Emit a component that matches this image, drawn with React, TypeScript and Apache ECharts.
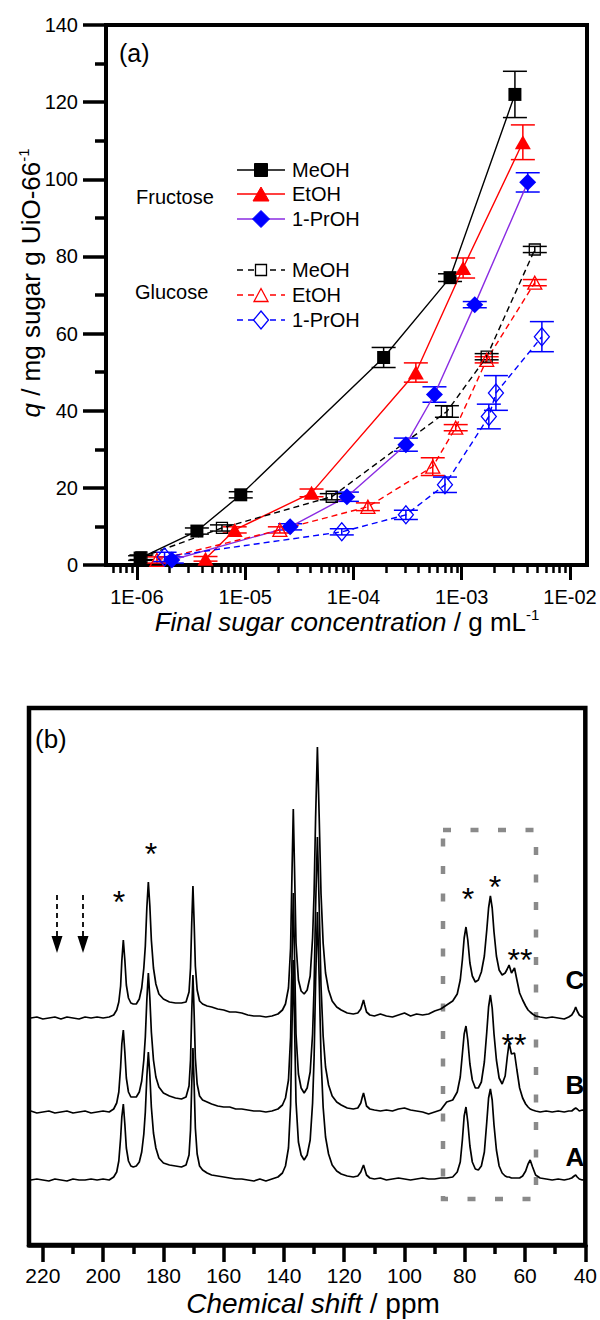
import React, { useEffect, useRef } from 'react';
import * as echarts from 'echarts';

const FONT = '"Liberation Sans", Arial, Helvetica, sans-serif';

// ---------- (a) sugar uptake vs final concentration ----------
const fructoseMeOHConc = [1.07e-6, 3.58e-6, 9.1e-6, 1.9e-4, 7.8e-4, 3.1e-3];
const fructoseMeOHQ = [1.8, 8.8, 18.2, 53.8, 74.5, 122];
const fructoseMeOHErr = [0.6, 0.8, 0.8, 2.6, 1.0, 6.0];

const fructoseEtOHConc = [4.3e-6, 8.0e-6, 4.1e-5, 3.77e-4, 1.03e-3, 3.67e-3];
const fructoseEtOHQ = [1.6, 9.1, 18.7, 49.9, 77, 109.6];
const fructoseEtOHErr = [0.6, 0.8, 1.0, 2.5, 2.6, 4.5];

const fructosePrOHConc = [2.1e-6, 2.6e-5, 8.7e-5, 3.05e-4, 5.6e-4, 1.32e-3, 4.07e-3];
const fructosePrOHQ = [1.3, 9.9, 17.7, 31.2, 44.2, 67.5, 99.2];
const fructosePrOHErr = [0.8, 0.8, 1.2, 1.7, 2.0, 0.8, 2.5];

const glucoseMeOHConc = [1.1e-6, 6.1e-6, 6.3e-5, 7.3e-4, 1.7e-3, 4.73e-3];
const glucoseMeOHQ = [2.0, 9.6, 17.7, 39.8, 54.0, 81.8];
const glucoseMeOHErr = [0.6, 0.8, 0.8, 1.5, 0.8, 0.8];

const glucoseEtOHConc = [1.53e-6, 2.09e-5, 1.36e-4, 5.4e-4, 8.8e-4, 1.7e-3, 4.73e-3];
const glucoseEtOHQ = [1.3, 9.1, 15.1, 25.5, 35.6, 53.2, 73.2];
const glucoseEtOHErr = [0.8, 0.8, 1.0, 2.3, 0.8, 0.8, 0.8];

const glucosePrOHConc = [1.8e-6, 7.8e-5, 3.05e-4, 7.0e-4, 1.78e-3, 2.07e-3, 5.5e-3];
const glucosePrOHQ = [2.1, 8.6, 13.0, 20.8, 38.5, 44.6, 59.2];
const glucosePrOHErr = [1.2, 0.8, 1.2, 2.0, 3.2, 4.5, 3.9];

const xMajorTicks = [1e-6, 1e-5, 1e-4, 1e-3, 1e-2];
const xTickLabels = ['1E-06', '1E-05', '1E-04', '1E-03', '1E-02'];

// ---------- (b) 13C NMR spectra ----------
const ppmGrid = [
  224, 222, 220, 218, 216, 214, 212, 210, 208, 206,
  204, 202, 200, 198, 196.5, 195.5, 194.8, 194.2, 193.8, 193.3,
  192.8, 192.3, 191.6, 190.8, 190, 189, 188, 187.2, 186.5, 186,
  185.5, 185, 184.5, 184, 183.3, 182.5, 181.5, 180, 178, 176,
  174, 172.5, 171.5, 171, 170.6, 170.2, 169.8, 169.4, 168.8, 168,
  167, 165.5, 164, 162, 160, 158, 156, 154, 152, 150,
  148, 146, 144, 142, 140.5, 139.5, 138.5, 137.8, 137.3, 136.9,
  136.5, 136, 135.2, 134.3, 133.3, 132.3, 131.3, 130.5, 130, 129.5,
  128.9, 128.3, 127.7, 127, 126.2, 125.2, 124, 122.5, 121, 119,
  117, 115.5, 114.5, 114, 113.6, 113.2, 112.6, 111.5, 110, 108,
  106, 104, 102, 100, 98, 96, 94, 92, 90, 88,
  86, 84, 82.5, 81.5, 80.8, 80.2, 79.6, 79, 78.3, 77.5,
  76.5, 75.5, 74.5, 73.5, 72.7, 72.1, 71.5, 70.9, 70.3, 69.5,
  68.6, 67.6, 66.6, 65.9, 65.3, 64.5, 63.5, 62.7, 61.8, 60.8,
  59.8, 59, 58.3, 57.5, 56.5, 55, 53, 51, 49, 47,
  45.5, 44.5, 43.7, 43.2, 42.7, 42, 41, 40,
];

const spectrumA = [
  0, 1, 0, -1, 1, 0, -1, 1, 0, 0,
  1, 0, 1, 0, 3, 8, 19, 42, 63, 76,
  56, 32, 19, 14, 13, 14, 18, 28, 46, 68,
  103, 128, 105, 73, 47, 32, 22, 17, 15, 14,
  13, 15, 25, 50, 96, 132, 95, 52, 26, 14,
  10, 7, 5, 4, 3, 2, 1, 1, 0, -1,
  1, -1, 1, 3, 7, 14, 32, 75, 158, 220,
  158, 78, 38, 25, 20, 25, 40, 77, 122, 198,
  268, 200, 122, 73, 43, 26, 15, 9, 6, 4,
  3, 4, 8, 12, 15, 11, 5, 2, 1, 2,
  0, 1, 2, 1, 0, 1, 2, 1, 1, 2,
  2, 3, 8, 18, 40, 64, 73, 58, 34, 18,
  11, 10, 14, 28, 58, 82, 91, 80, 55, 30,
  14, 7, 4, 3, 3, 2, 2, 2, 2, 4,
  9, 16, 20, 13, 5, 2, 1, 0, 1, 0,
  1, 2, 4, 5, 3, 1, 0, 1,
];

const spectrumB = [
  1, -1, 0, 1, -1, 0, 1, -1, 0, 1,
  -1, 0, 1, 0, 3, 9, 20, 45, 68, 82,
  60, 34, 20, 15, 15, 15, 20, 31, 52, 75,
  112, 139, 114, 80, 52, 35, 25, 19, 16, 14,
  13, 15, 26, 52, 100, 137, 98, 54, 28, 16,
  12, 10, 8, 6, 5, 5, 3, 3, 2, 1,
  1, 0, 1, 3, 7, 14, 32, 75, 158, 219,
  158, 78, 38, 24, 19, 24, 40, 78, 125, 205,
  275, 205, 126, 76, 45, 27, 16, 10, 7, 4,
  3, 4, 9, 15, 19, 14, 6, 3, 2, 1,
  2, 1, 3, 4, 2, 1, 0, -2, 0, 2,
  10, 12, 20, 35, 58, 78, 86, 72, 48, 32,
  24, 24, 30, 50, 80, 105, 117, 104, 78, 52,
  34, 28, 36, 55, 69, 58, 59, 42, 24, 14,
  8, 5, 3, 2, 1, 0, 1, 0, 1, 0,
  1, 1, 3, 4, 3, 1, 2, 1,
];

const spectrumC = [
  0, 1, -1, 0, 1, -1, 1, 0, -1, 1,
  0, 1, 0, 1, 3, 8, 16, 32, 57, 78,
  58, 33, 20, 15, 14, 14, 19, 30, 50, 72,
  110, 136, 112, 78, 50, 34, 24, 19, 16, 15,
  15, 16, 26, 50, 95, 132, 95, 52, 28, 17,
  14, 12, 11, 9, 8, 6, 6, 5, 3, 2,
  2, 1, 2, 4, 8, 14, 30, 70, 150, 209,
  150, 75, 38, 27, 24, 28, 42, 80, 125, 200,
  271, 200, 124, 75, 45, 28, 17, 11, 8, 5,
  4, 5, 9, 14, 18, 13, 6, 3, 2, 4,
  2, 1, 3, 5, 2, 4, 3, 4, 7, 9,
  13, 17, 24, 38, 58, 80, 91, 78, 55, 42,
  36, 38, 46, 62, 88, 110, 122, 110, 86, 62,
  48, 43, 45, 49, 53, 45, 50, 38, 25, 18,
  12, 8, 6, 4, 2, 1, 0, 1, 0, -1,
  1, 3, 7, 11, 7, 3, 1, 0,
];

const spectrumNames = ['A', 'B', 'C'];
const spectrumOffsets = [65, 133, 227];
const ppmMajorTicks = [40, 60, 80, 100, 120, 140, 160, 180, 200, 220];
const ppmMinorTicks = [50, 70, 90, 110, 130, 150, 170, 190, 210];

// ---------- helpers ----------
const X_MIN = 5.18e-7;
const X_MAX = 0.01436;
const logMinorTicks: number[] = [];
for (let e = -7; e <= -2; e++) {
  for (let k = 2; k <= 9; k++) {
    const v = k * Math.pow(10, e);
    if (v > X_MIN && v < X_MAX) logMinorTicks.push(v);
  }
}

type IsoDef = {
  name: string;
  conc: number[];
  q: number[];
  err: number[];
  color: string;
  lineColor: string;
  symbol: string;
  size: number | number[];
  filled: boolean;
  dashed: boolean;
};

const isoDefs: IsoDef[] = [
  { name: 'Fructose MeOH', conc: fructoseMeOHConc, q: fructoseMeOHQ, err: fructoseMeOHErr, color: '#000000', lineColor: '#000000', symbol: 'rect', size: 13, filled: true, dashed: false },
  { name: 'Fructose EtOH', conc: fructoseEtOHConc, q: fructoseEtOHQ, err: fructoseEtOHErr, color: '#ff0000', lineColor: '#ff0000', symbol: 'triangle', size: [16, 14], filled: true, dashed: false },
  { name: 'Fructose 1-PrOH', conc: fructosePrOHConc, q: fructosePrOHQ, err: fructosePrOHErr, color: '#0000ff', lineColor: '#8a2be2', symbol: 'diamond', size: [17, 17], filled: true, dashed: false },
  { name: 'Glucose MeOH', conc: glucoseMeOHConc, q: glucoseMeOHQ, err: glucoseMeOHErr, color: '#000000', lineColor: '#000000', symbol: 'rect', size: 11, filled: false, dashed: true },
  { name: 'Glucose EtOH', conc: glucoseEtOHConc, q: glucoseEtOHQ, err: glucoseEtOHErr, color: '#ff0000', lineColor: '#ff0000', symbol: 'triangle', size: [14, 13], filled: false, dashed: true },
  { name: 'Glucose 1-PrOH', conc: glucosePrOHConc, q: glucosePrOHQ, err: glucosePrOHErr, color: '#0000ff', lineColor: '#0000ff', symbol: 'diamond', size: [15, 18], filled: false, dashed: true },
];

function makeErrorSeries(d: IsoDef) {
  return {
    type: 'custom',
    name: d.name + ' error',
    xAxisIndex: 0,
    yAxisIndex: 0,
    z: 2,
    silent: true,
    encode: { x: 0, y: 1 },
    data: d.conc.map((c, i) => [c, d.q[i], d.err[i]]),
    renderItem: (params: any, api: any) => {
      const x = api.value(0);
      const y = api.value(1);
      const e = api.value(2);
      const p1 = api.coord([x, y + e]);
      const p2 = api.coord([x, y - e]);
      const hw = 12;
      const st = { stroke: d.color, lineWidth: 1.5 };
      return {
        type: 'group',
        children: [
          { type: 'line', shape: { x1: p1[0], y1: p1[1], x2: p2[0], y2: p2[1] }, style: st },
          { type: 'line', shape: { x1: p1[0] - hw, y1: p1[1], x2: p1[0] + hw, y2: p1[1] }, style: st },
          { type: 'line', shape: { x1: p2[0] - hw, y1: p2[1], x2: p2[0] + hw, y2: p2[1] }, style: st },
        ],
      };
    },
  };
}

function makeLineSeries(d: IsoDef) {
  return {
    type: 'line',
    name: d.name,
    xAxisIndex: 0,
    yAxisIndex: 0,
    z: 3,
    silent: true,
    data: d.conc.map((c, i) => [c, d.q[i]]),
    symbol: d.symbol,
    symbolSize: d.size,
    showSymbol: true,
    showAllSymbol: true,
    lineStyle: { color: d.lineColor, width: 1.4, type: d.dashed ? [6, 4] : 'solid' },
    itemStyle: d.filled
      ? { color: d.color }
      : { color: 'rgba(255,255,255,0)', borderColor: d.color, borderWidth: 1.3 },
    emphasis: { disabled: true },
  };
}

function legendMarker(symbol: string, cx: number, cy: number, color: string, filled: boolean) {
  const style = filled
    ? { fill: color, stroke: color, lineWidth: 1 }
    : { fill: '#ffffff', stroke: color, lineWidth: 1.3 };
  if (symbol === 'rect') {
    const s = filled ? 13 : 11;
    return { type: 'rect', shape: { x: cx - s / 2, y: cy - s / 2, width: s, height: s }, style };
  }
  if (symbol === 'triangle') {
    const w = filled ? 16 : 14;
    const h = filled ? 14 : 13;
    return { type: 'polygon', shape: { points: [[cx, cy - h / 2], [cx + w / 2, cy + h / 2], [cx - w / 2, cy + h / 2]] }, style };
  }
  const w = filled ? 17 : 15;
  const h = filled ? 17 : 18;
  return { type: 'polygon', shape: { points: [[cx, cy - h / 2], [cx + w / 2, cy], [cx, cy + h / 2], [cx - w / 2, cy]] }, style };
}

const legendRowsY = [170, 194, 219, 270, 295, 320];

function buildGraphic() {
  const g: any[] = [];
  // legend
  isoDefs.forEach((d, i) => {
    const y = legendRowsY[i];
    g.push({
      type: 'line',
      shape: { x1: 237, y1: y, x2: 285, y2: y },
      style: { stroke: d.lineColor, lineWidth: 1.4, lineDash: d.dashed ? [6, 5] : null },
    });
    g.push(legendMarker(d.symbol, 261, y, d.color, d.filled));
    g.push({
      type: 'text',
      x: 292,
      y,
      style: { text: d.name.split(' ')[1], fontSize: 20, fontFamily: FONT, fill: '#000', align: 'left', verticalAlign: 'middle' },
    });
  });
  g.push({ type: 'text', x: 136, y: 197, style: { text: 'Fructose', fontSize: 20, fontFamily: FONT, fill: '#000', verticalAlign: 'middle' } });
  g.push({ type: 'text', x: 135, y: 292, style: { text: 'Glucose', fontSize: 20, fontFamily: FONT, fill: '#000', verticalAlign: 'middle' } });
  // panel labels
  g.push({ type: 'text', x: 119, y: 53, style: { text: '(a)', fontSize: 25, fontFamily: FONT, fill: '#000', verticalAlign: 'middle' } });
  g.push({ type: 'text', x: 35, y: 739, style: { text: '(b)', fontSize: 26, fontFamily: FONT, fill: '#000', verticalAlign: 'middle' } });
  // axis titles
  g.push({
    type: 'text',
    x: 31,
    y: 283,
    rotation: Math.PI / 2,
    style: {
      text: '{i|q}{n| / mg sugar g UiO-66}{s|-1}',
      align: 'center',
      verticalAlign: 'middle',
      fill: '#000',
      rich: {
        i: { fontSize: 26, fontStyle: 'italic', fontFamily: FONT, lineHeight: 30, fill: '#000' },
        n: { fontSize: 26, fontFamily: FONT, lineHeight: 30, fill: '#000' },
        s: { fontSize: 15, fontFamily: FONT, verticalAlign: 'top', lineHeight: 30, fill: '#000' },
      },
    },
  });
  g.push({
    type: 'text',
    x: 347,
    y: 622,
    style: {
      text: '{i|Final sugar concentration}{n| / g mL}{s|-1}',
      align: 'center',
      verticalAlign: 'middle',
      fill: '#000',
      rich: {
        i: { fontSize: 26, fontStyle: 'italic', fontFamily: FONT, lineHeight: 30, fill: '#000' },
        n: { fontSize: 26, fontFamily: FONT, lineHeight: 30, fill: '#000' },
        s: { fontSize: 15, fontFamily: FONT, verticalAlign: 'top', lineHeight: 30, fill: '#000' },
      },
    },
  });
  g.push({
    type: 'text',
    x: 313,
    y: 1303,
    style: {
      text: '{i|Chemical shift}{n| / ppm}',
      align: 'center',
      verticalAlign: 'middle',
      fill: '#000',
      rich: {
        i: { fontSize: 28, fontStyle: 'italic', fontFamily: FONT, fill: '#000' },
        n: { fontSize: 28, fontFamily: FONT, fill: '#000' },
      },
    },
  });
  // spectrum labels
  const labelY = [1157, 1085, 980];
  spectrumNames.forEach((n, i) => {
    g.push({ type: 'text', x: 575, y: labelY[i], style: { text: n, fontSize: 26, fontWeight: 'bold', fontFamily: FONT, fill: '#000', align: 'center', verticalAlign: 'middle' } });
  });
  // asterisks
  const stars: [number, number, string][] = [
    [119, 895, '*'], [151, 847, '*'], [468, 892, '*'], [495, 880, '*'], [520, 953, '**'], [514, 1038, '**'],
  ];
  stars.forEach(([x, y, t]) => {
    g.push({ type: 'text', x, y: y + 7, style: { text: t, fontSize: 32, fontFamily: FONT, fill: '#000', align: 'center', verticalAlign: 'middle' } });
  });
  // dashed arrows
  [57, 83].forEach((x) => {
    g.push({ type: 'line', shape: { x1: x, y1: 895, x2: x, y2: 938 }, style: { stroke: '#000', lineWidth: 1.8, lineDash: [5, 4] } });
    g.push({ type: 'polygon', shape: { points: [[x - 5.5, 936], [x + 5.5, 936], [x, 953]] }, style: { fill: '#000' } });
  });
  // dashed grey box
  g.push({
    type: 'rect',
    shape: { x: 443, y: 830, width: 93, height: 369 },
    style: { fill: 'none', stroke: '#8a8a8a', lineWidth: 4.5, lineDash: [8, 19.5] },
  });
  return g;
}

function buildOption() {
  const series: any[] = [];
  isoDefs.forEach((d) => series.push(makeErrorSeries(d)));
  isoDefs.forEach((d) => series.push(makeLineSeries(d)));
  const spectra = [spectrumA, spectrumB, spectrumC];
  spectra.forEach((s, k) => {
    series.push({
      type: 'line',
      name: 'Spectrum ' + spectrumNames[k],
      xAxisIndex: 2,
      yAxisIndex: 1,
      data: ppmGrid.map((p, i) => [p, s[i] + spectrumOffsets[k]]),
      symbol: 'none',
      showSymbol: false,
      silent: true,
      lineStyle: { color: '#000', width: 1.7 },
      emphasis: { disabled: true },
    });
  });

  const tickLabel = { fontSize: 20, color: '#000', fontFamily: FONT };

  return {
    animation: false,
    backgroundColor: '#ffffff',
    grid: [
      { left: 106, top: 25, width: 481, height: 540, show: true, borderColor: '#000', borderWidth: 4, backgroundColor: 'rgba(0,0,0,0)' },
      { left: 29, top: 708, width: 559, height: 537, show: true, borderColor: '#000', borderWidth: 4.5, backgroundColor: 'rgba(0,0,0,0)' },
    ],
    xAxis: [
      {
        gridIndex: 0,
        type: 'log',
        logBase: 10,
        min: X_MIN,
        max: X_MAX,
        position: 'bottom',
        axisLine: { show: true, onZero: false, lineStyle: { color: '#000', width: 4 } },
        axisTick: { show: true, inside: false, length: 15, customValues: xMajorTicks, lineStyle: { color: '#000', width: 3 } },
        axisLabel: {
          show: true,
          customValues: xMajorTicks,
          margin: 22,
          ...tickLabel,
          formatter: (v: number) => {
            const i = xMajorTicks.findIndex((t) => Math.abs(Math.log10(t) - Math.log10(v)) < 0.01);
            return i >= 0 ? xTickLabels[i] : '';
          },
        },
        splitLine: { show: false },
        minorTick: { show: false },
      },
      {
        gridIndex: 0,
        type: 'log',
        logBase: 10,
        min: X_MIN,
        max: X_MAX,
        position: 'bottom',
        axisLine: { show: false },
        axisTick: { show: true, inside: false, length: 8, customValues: logMinorTicks, lineStyle: { color: '#000', width: 2.5 } },
        axisLabel: { show: false, customValues: logMinorTicks },
        splitLine: { show: false },
      },
      {
        gridIndex: 1,
        type: 'value',
        inverse: true,
        min: 40,
        max: 224.6,
        position: 'bottom',
        axisLine: { show: true, onZero: false, lineStyle: { color: '#000', width: 4.5 } },
        axisTick: { show: true, inside: false, length: 17, customValues: ppmMajorTicks, lineStyle: { color: '#000', width: 3.5 } },
        axisLabel: { show: true, customValues: ppmMajorTicks, margin: 20, fontSize: 21, color: '#000', fontFamily: FONT },
        splitLine: { show: false },
      },
      {
        gridIndex: 1,
        type: 'value',
        inverse: true,
        min: 40,
        max: 224.6,
        position: 'bottom',
        axisLine: { show: false },
        axisTick: { show: true, inside: false, length: 9, customValues: ppmMinorTicks, lineStyle: { color: '#000', width: 3.5 } },
        axisLabel: { show: false, customValues: ppmMinorTicks },
        splitLine: { show: false },
      },
    ],
    yAxis: [
      {
        gridIndex: 0,
        type: 'value',
        min: 0,
        max: 140,
        interval: 20,
        axisLine: { show: true, onZero: false, lineStyle: { color: '#000', width: 4 } },
        axisTick: { show: true, inside: false, length: 23, lineStyle: { color: '#000', width: 3.5 } },
        minorTick: { show: true, splitNumber: 2, length: 11, lineStyle: { color: '#000', width: 3.5 } },
        axisLabel: { show: true, margin: 28, ...tickLabel },
        splitLine: { show: false },
        minorSplitLine: { show: false },
      },
      {
        gridIndex: 1,
        type: 'value',
        min: 0,
        max: 537,
        show: false,
        splitLine: { show: false },
      },
    ],
    series,
    graphic: buildGraphic(),
  };
}

export default function App() {
  const ref = useRef<HTMLDivElement>(null);
  useEffect(() => {
    if (!ref.current) return;
    const chart = echarts.init(ref.current, null, { renderer: 'svg' });
    chart.setOption(buildOption() as any);
    return () => {
      chart.dispose();
    };
  }, []);
  return (
    <div
      ref={ref}
      style={{ position: 'fixed', left: 0, top: 0, width: 600, height: 1320, background: '#ffffff' }}
    />
  );
}
